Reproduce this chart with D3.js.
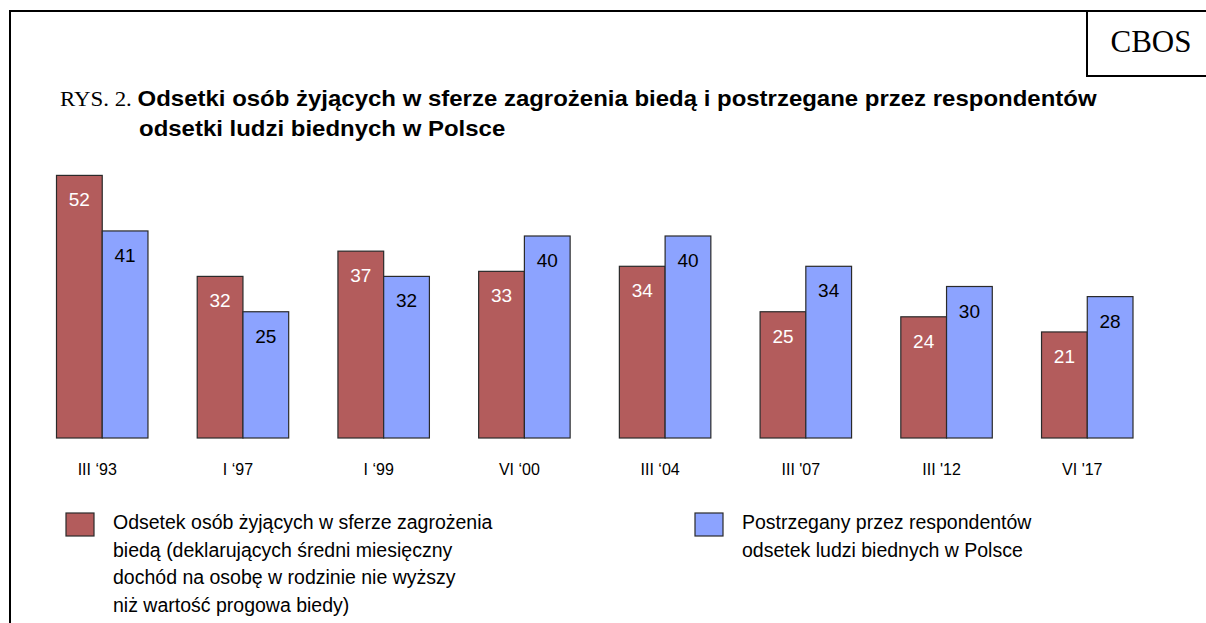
<!DOCTYPE html>
<html>
<head>
<meta charset="utf-8">
<script src="https://cdn.jsdelivr.net/npm/d3@7/dist/d3.min.js"></script>
<style>
  html, body { margin: 0; padding: 0; background: #fff; }
  svg { display: block; }
</style>
</head>
<body>
<script>
// Survey waves and the two series of percentages
const categories = ["III \u201893", "I \u201897", "I \u201899", "VI \u201800", "III \u201804", "III '07", "III '12", "VI '17"];
const atRisk = [52, 32, 37, 33, 34, 25, 24, 21];      // share living at risk of poverty
const perceived = [41, 25, 32, 40, 40, 34, 30, 28];   // perceived share of poor people
const seriesNames = [
  ["Odsetek osób żyjących w sferze zagrożenia", "biedą (deklarujących średni miesięczny", "dochód na osobę w rodzinie nie wyższy", "niż wartość progowa biedy)"],
  ["Postrzegany przez respondentów", "odsetek ludzi biednych w Polsce"]
];

const W = 1206, H = 623;
const colors = ["#b35c5c", "#8ca3ff"];
const textColors = ["#ffffff", "#000000"];
const sans = "'Liberation Sans', Arial, sans-serif";
const serif = "'Liberation Serif', 'Times New Roman', serif";

const svg = d3.select("body").append("svg").attr("width", W).attr("height", H);

// outer frame and the CBOS tab
svg.append("path")
  .attr("d", "M10,623 V11 H1206")
  .attr("fill", "none").attr("stroke", "#000").attr("stroke-width", 2);
svg.append("path")
  .attr("d", "M1087,11 V76 H1206")
  .attr("fill", "none").attr("stroke", "#000").attr("stroke-width", 2);
svg.append("text")
  .attr("x", 1151).attr("y", 52)
  .attr("text-anchor", "middle")
  .attr("font-family", serif)
  .attr("font-size", 31)
  .text("CBOS");

// title (set slightly wide)
const sx = 1.09;
const titleG = svg.append("g").attr("transform", `translate(60,0) scale(${sx},1)`);
const title = titleG.append("text").attr("x", 0).attr("y", 106);
title.append("tspan")
  .attr("font-family", serif)
  .attr("font-size", 21)
  .text("RYS. 2. ");
title.append("tspan")
  .attr("font-family", sans)
  .attr("font-weight", "bold")
  .attr("font-size", 22)
  .text("Odsetki osób żyjących w sferze zagrożenia biedą i postrzegane przez respondentów");
titleG.append("text")
  .attr("x", (139 - 60) / sx).attr("y", 136)
  .attr("font-family", sans)
  .attr("font-weight", "bold")
  .attr("font-size", 22)
  .text("odsetki ludzi biednych w Polsce");

// scales
const x = d3.scaleBand()
  .domain(categories)
  .range([56.5, 1133])
  .paddingInner(0.35)
  .paddingOuter(0);
const inner = d3.scaleBand()
  .domain([0, 1])
  .range([0, x.bandwidth()]);
const y = d3.scaleLinear()
  .domain([0, 60])
  .range([438, 135]);

const rows = categories.map((c, i) => ({ cat: c, values: [atRisk[i], perceived[i]] }));

const groups = svg.append("g").selectAll("g")
  .data(rows).join("g")
  .attr("transform", d => `translate(${x(d.cat)},0)`);

const bars = groups.selectAll("g.bar")
  .data(d => d.values.map((v, k) => ({ v, k })))
  .join("g").attr("class", "bar");

bars.append("rect")
  .attr("x", d => inner(d.k))
  .attr("y", d => y(d.v))
  .attr("width", inner.bandwidth())
  .attr("height", d => y(0) - y(d.v))
  .attr("fill", d => colors[d.k])
  .attr("stroke", "#2a2a2a")
  .attr("stroke-width", 1.2);

bars.append("text")
  .attr("x", d => inner(d.k) + inner.bandwidth() / 2)
  .attr("y", d => y(d.v) + 31)
  .attr("text-anchor", "middle")
  .attr("font-family", sans)
  .attr("font-size", 19)
  .attr("fill", d => textColors[d.k])
  .text(d => d.v);

// category axis (labels only)
const xAxis = svg.append("g")
  .attr("transform", `translate(-5,${y(0)})`)
  .call(d3.axisBottom(x).tickSize(0).tickPadding(26));
xAxis.select(".domain").remove();
xAxis.selectAll("text")
  .attr("font-family", sans)
  .attr("font-size", 16)
  .attr("fill", "#000");

// legend
const legendPos = [[66, 513], [695, 513]];
seriesNames.forEach((lines, k) => {
  const g = svg.append("g").attr("transform", `translate(${legendPos[k][0]},${legendPos[k][1]})`);
  g.append("rect")
    .attr("width", 28).attr("height", 23)
    .attr("fill", colors[k])
    .attr("stroke", "#2a2a2a").attr("stroke-width", 1.2);
  const t = g.append("text")
    .attr("font-family", sans)
    .attr("font-size", 19.5)
    .attr("fill", "#000");
  lines.forEach((s, j) => {
    t.append("tspan").attr("x", 47).attr("y", 16 + j * 27.6).text(s);
  });
});
</script>
</body>
</html>
